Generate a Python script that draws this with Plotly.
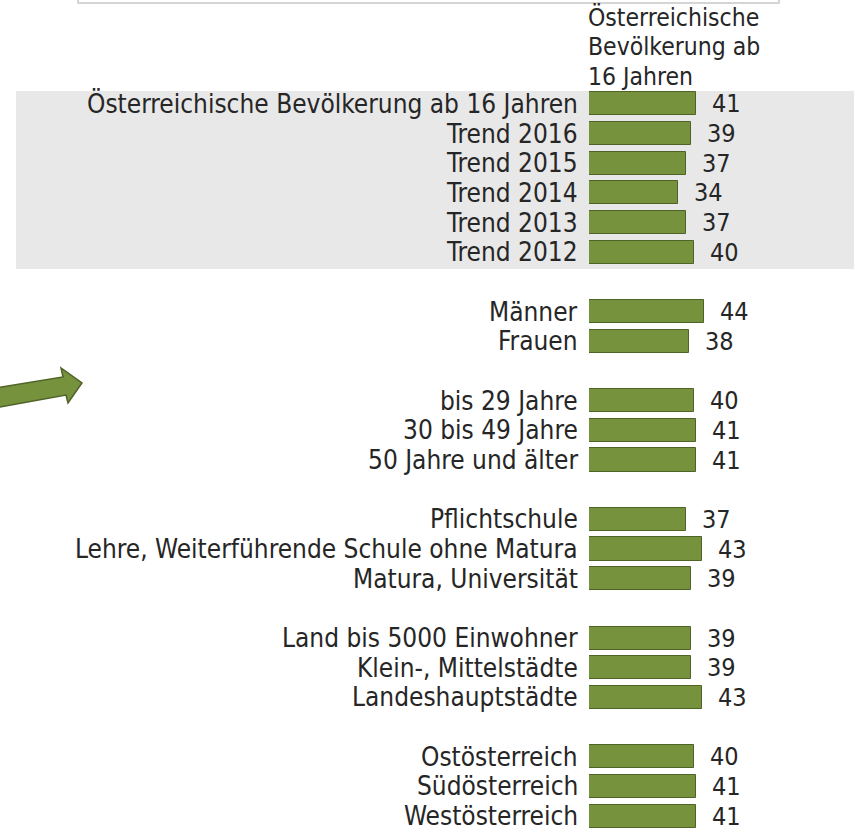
import plotly.graph_objects as go

# ---- data ----
labels = [
    "Österreichische Bevölkerung ab 16 Jahren", "Trend 2016", "Trend 2015", "Trend 2014",
    "Trend 2013", "Trend 2012", "",
    "Männer", "Frauen", "",
    "bis 29 Jahre", "30 bis 49 Jahre", "50 Jahre und älter", "",
    "Pflichtschule", "Lehre, Weiterführende Schule ohne Matura", "Matura, Universität", "",
    "Land bis 5000 Einwohner", "Klein-, Mittelstädte", "Landeshauptstädte", "",
    "Ostösterreich", "Südösterreich", "Westösterreich",
]
values = [41, 39, 37, 34, 37, 40, None,
          44, 38, None,
          40, 41, 41, None,
          37, 43, 39, None,
          39, 39, 43, None,
          40, 41, 41]
series_lines = ["Österreichische", "Bevölkerung ab", "16 Jahren"]

# ---- layout constants ----
W, H = 854, 831
ML, MR, MT, MB = 589, 3, 89, 0
PW, PH = W - ML - MR, H - MT - MB
FONT = "DejaVu Sans Condensed, DejaVu Sans, sans-serif"
FS_LAB = 26
FS = 25
TXT = "#262626"
BAR = "#76923C"
BAR_LINE = "#4F6228"


def px_x(px):
    return (px - ML) / PW


def px_y(py):
    return 1 - (py - MT) / PH


rows = list(range(len(labels)))
bx = [v for v in values if v is not None]
by = [r for r, v in zip(rows, values) if v is not None]

fig = go.Figure()
fig.add_trace(go.Bar(
    x=bx, y=by, orientation="h", width=0.78,
    marker=dict(color=BAR, line=dict(color=BAR_LINE, width=1)),
    hoverinfo="skip", showlegend=False,
))

annotations = []
for v, r in zip(bx, by):
    annotations.append(dict(
        x=v, y=r, xref="x", yref="y", text=str(v), showarrow=False,
        xanchor="left", yanchor="middle", xshift=14,
        font=dict(family=FONT, size=FS, color=TXT),
    ))
for r, lab in zip(rows, labels):
    if lab:
        annotations.append(dict(
            x=0, y=r, xref="paper", yref="y", text=lab, showarrow=False,
            xanchor="right", yanchor="middle", xshift=-9,
            font=dict(family=FONT, size=FS_LAB, color=TXT),
        ))
for i, line in enumerate(series_lines):
    annotations.append(dict(
        x=0, y=px_y(17 + 29.5 * i), xref="paper", yref="paper", text=line,
        showarrow=False, xanchor="left", yanchor="middle", align="left", xshift=-3,
        font=dict(family=FONT, size=24.5, color=TXT),
    ))

# arrow path in pixel coordinates
arrow_pts = [(-5, 388), (63, 377), (61, 368), (82, 383), (68, 403), (66, 395), (-5, 408)]
path = "M " + " L ".join(f"{px_x(x):.5f},{px_y(y):.5f}" for x, y in arrow_pts) + " Z"

shapes = [
    # grey band behind the total/trend rows
    dict(type="rect", xref="paper", yref="paper", layer="below",
         x0=px_x(16), x1=px_x(860), y0=px_y(269), y1=px_y(91),
         fillcolor="#E8E8E8", line=dict(width=0)),
    # box edge at top
    dict(type="rect", xref="paper", yref="paper",
         x0=px_x(78), x1=px_x(779), y0=px_y(3), y1=px_y(-20),
         fillcolor="white", line=dict(color="#C8C8C8", width=1.5)),
    # green arrow
    dict(type="path", xref="paper", yref="paper", path=path,
         fillcolor="#76923C", line=dict(color="#4F6228", width=1.5)),
]

fig.update_layout(
    width=W, height=H,
    margin=dict(l=ML, r=MR, t=MT, b=MB, pad=0),
    paper_bgcolor="white", plot_bgcolor="rgba(0,0,0,0)",
    xaxis=dict(range=[0, 100], visible=False, fixedrange=True),
    yaxis=dict(range=[len(labels) - 0.5, -0.5], visible=False, fixedrange=True),
    annotations=annotations, shapes=shapes,
    bargap=0, showlegend=False,
)

fig.write_html("out.html", config={"displayModeBar": False},
               post_script="document.body.style.margin='0px';")
